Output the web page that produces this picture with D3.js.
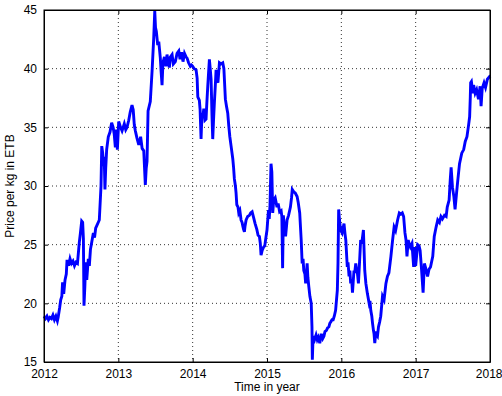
<!DOCTYPE html>
<html>
<head>
<meta charset="utf-8">
<script src="https://cdn.jsdelivr.net/npm/d3@7"></script>
<style>
  body { margin: 0; background: #fff; }
  svg { font-family: "Liberation Sans", Arial, sans-serif; }
  .grid line { stroke: #333; stroke-dasharray: 1,3; stroke-width: 1; }
</style>
</head>
<body>
<svg width="502" height="396"></svg>
<script>
// decimal year of each observation
const years = [
  2012.000, 2012.02, 2012.04, 2012.06, 2012.08, 2012.10, 2012.12, 2012.14, 2012.16, 2012.18,
  2012.19, 2012.21, 2012.225, 2012.24, 2012.25, 2012.265, 2012.283, 2012.30, 2012.31, 2012.33,
  2012.35, 2012.37, 2012.39, 2012.41, 2012.43, 2012.45, 2012.475, 2012.49, 2012.507, 2012.52,
  2012.53, 2012.538, 2012.55, 2012.56, 2012.575, 2012.596, 2012.61, 2012.625, 2012.642, 2012.664,
  2012.68, 2012.695, 2012.709, 2012.744, 2012.767, 2012.777, 2012.79, 2012.80, 2012.81, 2012.82,
  2012.83, 2012.843, 2012.865, 2012.888, 2012.91, 2012.93, 2012.945, 2012.96, 2012.975, 2012.987,
  2013.005, 2013.03, 2013.05, 2013.08, 2013.10, 2013.117, 2013.14, 2013.16, 2013.184, 2013.20,
  2013.215, 2013.229, 2013.25, 2013.275, 2013.30, 2013.32, 2013.342, 2013.363, 2013.375, 2013.386,
  2013.40, 2013.43, 2013.454, 2013.476, 2013.49, 2013.50, 2013.511, 2013.53, 2013.544, 2013.565,
  2013.575, 2013.588, 2013.60, 2013.62, 2013.64, 2013.655, 2013.67, 2013.686, 2013.70, 2013.723,
  2013.74, 2013.767, 2013.79, 2013.813, 2013.83, 2013.85, 2013.87, 2013.89, 2013.911, 2013.925,
  2013.945, 2013.969, 2013.985, 2014.001, 2014.02, 2014.046, 2014.06, 2014.069, 2014.09, 2014.10,
  2014.113, 2014.125, 2014.136, 2014.15, 2014.165, 2014.18, 2014.19, 2014.203, 2014.225, 2014.236,
  2014.248, 2014.26, 2014.27, 2014.28, 2014.292, 2014.305, 2014.315, 2014.33, 2014.34, 2014.36,
  2014.38, 2014.405, 2014.42, 2014.44, 2014.455, 2014.472, 2014.486, 2014.50, 2014.517, 2014.54,
  2014.55, 2014.561, 2014.575, 2014.584, 2014.594, 2014.61, 2014.62, 2014.635, 2014.651, 2014.665,
  2014.674, 2014.685, 2014.696, 2014.705, 2014.719, 2014.74, 2014.763, 2014.78, 2014.80, 2014.82,
  2014.84, 2014.863, 2014.88, 2014.898, 2014.91, 2014.92, 2014.935, 2014.955, 2014.97, 2014.985,
  2015.00, 2015.02, 2015.03, 2015.04, 2015.054, 2015.065, 2015.077, 2015.09, 2015.11, 2015.135,
  2015.15, 2015.17, 2015.19, 2015.20, 2015.21, 2015.22, 2015.235, 2015.25, 2015.27, 2015.29,
  2015.315, 2015.33, 2015.34, 2015.36, 2015.38, 2015.405, 2015.42, 2015.44, 2015.46, 2015.473,
  2015.485, 2015.495, 2015.51, 2015.52, 2015.54, 2015.55, 2015.563, 2015.577, 2015.595, 2015.605,
  2015.61, 2015.62, 2015.64, 2015.66, 2015.676, 2015.69, 2015.71, 2015.73, 2015.75, 2015.766,
  2015.78, 2015.80, 2015.815, 2015.833, 2015.845, 2015.856, 2015.875, 2015.89, 2015.905, 2015.923,
  2015.935, 2015.946, 2015.955, 2015.964, 2015.975, 2015.99, 2016.01, 2016.036, 2016.05, 2016.06,
  2016.08, 2016.09, 2016.104, 2016.115, 2016.126, 2016.14, 2016.15, 2016.17, 2016.18, 2016.194,
  2016.205, 2016.216, 2016.23, 2016.245, 2016.26, 2016.275, 2016.297, 2016.315, 2016.33, 2016.35,
  2016.374, 2016.385, 2016.396, 2016.41, 2016.42, 2016.432, 2016.44, 2016.45, 2016.465, 2016.475,
  2016.486, 2016.50, 2016.515, 2016.53, 2016.554, 2016.575, 2016.60, 2016.62, 2016.64, 2016.667,
  2016.69, 2016.71, 2016.73, 2016.757, 2016.78, 2016.80, 2016.82, 2016.838, 2016.856, 2016.87,
  2016.883, 2016.90, 2016.915, 2016.928, 2016.95, 2016.973, 2016.99, 2017.00, 2017.027, 2017.045,
  2017.06, 2017.08, 2017.10, 2017.117, 2017.135, 2017.16, 2017.18, 2017.20, 2017.23, 2017.25,
  2017.275, 2017.297, 2017.32, 2017.34, 2017.36, 2017.387, 2017.41, 2017.425, 2017.45, 2017.465,
  2017.477, 2017.495, 2017.514, 2017.53, 2017.55, 2017.567, 2017.59, 2017.60, 2017.62, 2017.646,
  2017.667, 2017.69, 2017.71, 2017.726, 2017.735, 2017.74, 2017.75, 2017.77, 2017.78, 2017.80,
  2017.82, 2017.845, 2017.867, 2017.88, 2017.895, 2017.92, 2017.94, 2017.965, 2017.99, 2018.0
];

// price per kg in ETB, same order as years
const prices = [
  18.9, 18.7, 18.9, 18.6, 18.8, 18.7, 19.0, 18.6, 18.9, 18.5,
  18.8, 19.6, 20.3, 20.6, 21.8, 20.8, 22.0, 22.5, 23.7, 23.2,
  23.8, 23.4, 23.6, 23.2, 23.5, 23.4, 25.2, 26.0, 27.0, 26.9,
  25.5, 19.8, 21.5, 23.5, 22.0, 23.8, 23.2, 24.6, 25.2, 26.0,
  25.6, 26.4, 26.6, 27.1, 30.0, 33.4, 32.8, 31.7, 32.5, 29.7,
  31.5, 33.1, 34.2, 34.6, 35.4, 35.0, 34.4, 33.3, 34.8, 33.1,
  35.5, 35.0, 34.7, 35.3, 34.8, 35.0, 35.6, 36.3, 36.9, 36.5,
  35.2, 34.7, 34.1, 33.5, 34.2, 33.2, 33.0, 30.1, 31.5, 32.1,
  36.4, 37.2, 39.8, 42.6, 44.9, 43.5, 43.2, 42.0, 42.3, 40.9,
  39.8, 38.6, 40.5, 41.0, 40.2, 41.2, 40.6, 40.1, 41.0, 41.2,
  40.4, 40.6, 41.3, 41.5, 40.8, 41.4, 40.6, 41.3, 41.0, 40.9,
  40.5, 40.2, 40.3, 40.2, 40.0, 39.9, 39.2, 37.6, 37.3, 36.5,
  34.0, 36.2, 35.9, 36.6, 35.6, 35.7, 37.0, 38.5, 40.8, 40.0,
  39.1, 36.0, 34.0, 35.5, 37.1, 38.6, 39.9, 39.0, 38.8, 40.5,
  40.4, 40.5, 40.0, 37.4, 36.8, 36.2, 35.1, 34.2, 33.4, 32.3,
  31.6, 30.6, 30.0, 29.4, 28.4, 28.2, 27.7, 27.9, 27.1, 26.9,
  26.6, 26.3, 26.1, 26.6, 27.1, 27.4, 27.5, 27.7, 27.8, 27.3,
  26.8, 26.3, 25.8, 25.7, 25.1, 24.1, 24.5, 24.8, 24.9, 25.6,
  26.25, 27.95, 27.2, 28.3, 31.9, 31.2, 27.7, 28.8, 29.0, 28.2,
  28.5, 27.8, 27.9, 27.4, 23.0, 27.5, 26.5, 25.7, 27.1, 27.5,
  28.2, 29.0, 29.7, 29.5, 29.4, 29.1, 28.6, 27.7, 25.4, 23.4,
  23.8, 22.8, 22.5, 21.7, 23.4, 22.2, 21.4, 20.6, 20.0, 18.0,
  15.2, 17.2, 16.9, 17.3, 16.9, 17.1, 16.6, 17.4, 17.0, 17.2,
  17.6, 17.7, 17.9, 18.0, 18.3, 18.4, 18.6, 18.6, 18.9, 19.4,
  20.3, 21.1, 23.4, 28.0, 27.1, 26.25, 26.0, 26.8, 25.9, 25.4,
  23.1, 23.5, 22.3, 22.8, 21.7, 22.0, 20.9, 22.8, 22.6, 23.4,
  22.9, 22.6, 21.7, 23.5, 25.4, 25.1, 26.25, 22.8, 21.7, 20.85,
  20.0, 20.2, 19.4, 18.9, 18.3, 17.7, 17.4, 16.6, 17.6, 17.3,
  17.2, 18.0, 18.4, 18.9, 20.6, 20.3, 21.7, 22.3, 22.6, 24.0,
  25.4, 26.5, 26.2, 27.1, 27.7, 27.6, 27.7, 27.4, 26.0, 25.4,
  24.0, 25.4, 25.0, 24.8, 25.1, 23.1, 24.8, 23.2, 25.0, 24.9,
  24.5, 22.8, 20.9, 23.4, 23.0, 22.3, 22.9, 23.1, 24.0, 25.7,
  26.5, 27.1, 26.9, 27.4, 27.2, 27.5, 27.4, 28.2, 28.8, 30.5,
  31.6, 29.9, 29.1, 28.0, 29.4, 30.5, 31.9, 32.2, 32.8, 33.1,
  33.8, 34.2, 35.1, 35.9, 37.6, 38.8, 38.9, 37.9, 38.6, 37.9,
  38.2, 37.4, 38.5, 36.8, 38.3, 38.8, 38.4, 39.1, 39.3, 39.2
];

const xTicks = [2012, 2013, 2014, 2015, 2016, 2017, 2018];
const yTicks = [15, 20, 25, 30, 35, 40, 45];

const svg = d3.select("svg");
const margin = { top: 10, right: 12, bottom: 34, left: 44 };
const width = +svg.attr("width") - margin.left - margin.right;
const height = +svg.attr("height") - margin.top - margin.bottom;

const g = svg.append("g")
  .attr("transform", `translate(${margin.left},${margin.top})`);

const x = d3.scaleLinear().domain([2012, 2018]).range([0, width]);
const y = d3.scaleLinear().domain([15, 45]).range([height, 0]);

// dotted grid
g.append("g")
  .attr("class", "grid")
  .selectAll("line.v")
  .data(xTicks.slice(1, -1))
  .enter().append("line")
  .attr("x1", d => x(d)).attr("x2", d => x(d))
  .attr("y1", 0).attr("y2", height);

g.append("g")
  .attr("class", "grid")
  .selectAll("line.h")
  .data(yTicks.slice(1, -1))
  .enter().append("line")
  .attr("x1", 0).attr("x2", width)
  .attr("y1", d => y(d)).attr("y2", d => y(d));

// price line
const line = d3.line()
  .x((d, i) => x(years[i]))
  .y(d => y(d));

g.append("path")
  .datum(prices)
  .attr("fill", "none")
  .attr("stroke", "#0000ff")
  .attr("stroke-width", 2.9)
  .attr("stroke-linejoin", "miter")
  .attr("d", line);

// axes, matlab-like: ticks point inward on all four sides
const tickLen = 4;
const xAxis = d3.axisBottom(x).tickValues(xTicks).tickFormat(d3.format("d"))
  .tickSizeInner(-tickLen).tickSizeOuter(0).tickPadding(7);
const yAxis = d3.axisLeft(y).tickValues(yTicks).tickFormat(d3.format("d"))
  .tickSizeInner(-tickLen).tickSizeOuter(0).tickPadding(7);

g.append("g")
  .attr("transform", `translate(0,${height})`)
  .call(xAxis);
g.append("g")
  .call(yAxis);
g.append("g")
  .call(d3.axisTop(x).tickValues(xTicks).tickFormat("").tickSizeInner(-tickLen).tickSizeOuter(0));
g.append("g")
  .attr("transform", `translate(${width},0)`)
  .call(d3.axisRight(y).tickValues(yTicks).tickFormat("").tickSizeInner(-tickLen).tickSizeOuter(0));

g.selectAll(".tick text")
  .attr("font-family", "'Liberation Sans', Arial, sans-serif")
  .attr("font-size", 12)
  .attr("fill", "#000");
g.selectAll(".domain").attr("stroke", "#000");
g.selectAll(".tick line").attr("stroke", "#000");

// last year label sits at the right edge; keep it inside the page
g.selectAll(".tick text")
  .filter(d => d === 2018)
  .attr("text-anchor", "end")
  .attr("dx", 12);

// box
g.append("rect")
  .attr("width", width).attr("height", height)
  .attr("fill", "none").attr("stroke", "#000").attr("stroke-width", 1);

// axis titles
svg.append("text")
  .attr("x", margin.left + width / 2)
  .attr("y", 391)
  .attr("text-anchor", "middle")
  .attr("font-size", 12)
  .text("Time in year");

svg.append("text")
  .attr("transform", `translate(14,${margin.top + height / 2}) rotate(-90)`)
  .attr("text-anchor", "middle")
  .attr("font-size", 12)
  .text("Price per kg in ETB");
</script>
</body>
</html>
